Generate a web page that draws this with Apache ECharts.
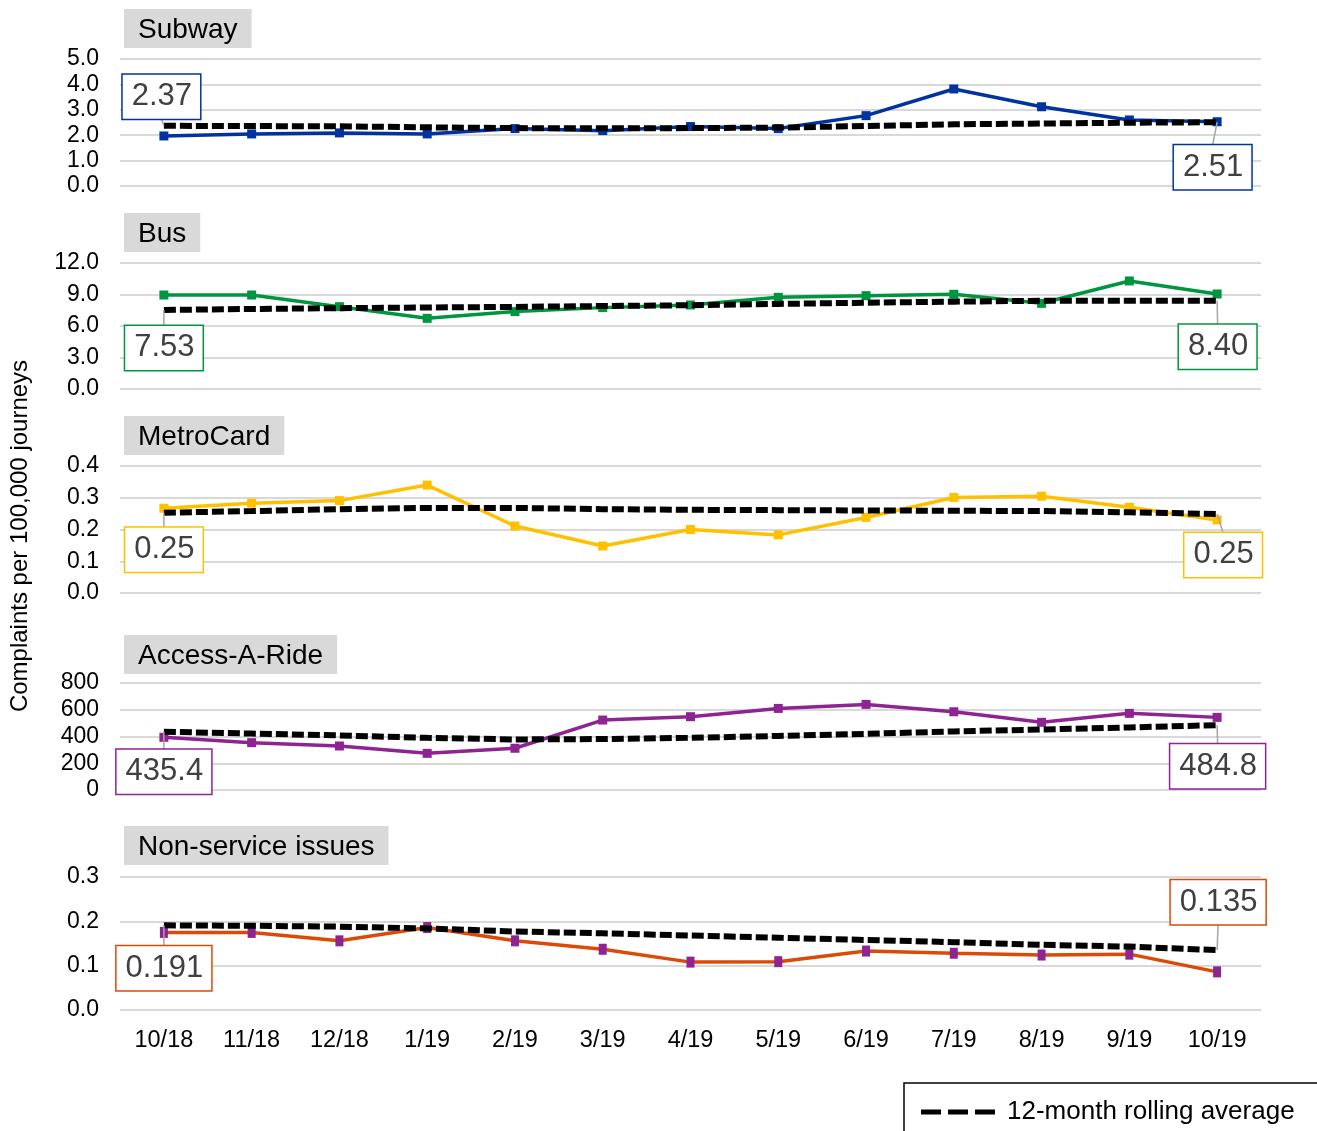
<!DOCTYPE html>
<html>
<head>
<meta charset="utf-8">
<script src="https://cdn.jsdelivr.net/npm/echarts@6/dist/echarts.min.js"></script>
<style>
  html, body { margin: 0; padding: 0; background: #fff; }
  #main { width: 1317px; height: 1131px; }
</style>
</head>
<body>
<div id="main"></div>
<script>
// months on the x axis
var months = ['10/18', '11/18', '12/18', '1/19', '2/19', '3/19', '4/19', '5/19', '6/19', '7/19', '8/19', '9/19', '10/19'];

// monthly values per panel
var subway = [1.97, 2.05, 2.09, 2.05, 2.26, 2.18, 2.34, 2.26, 2.77, 3.82, 3.12, 2.60, 2.53];
var bus = [8.95, 8.95, 7.84, 6.73, 7.37, 7.75, 8.00, 8.73, 8.89, 9.02, 8.16, 10.29, 9.05];
var metroCard = [0.267, 0.283, 0.291, 0.340, 0.211, 0.148, 0.200, 0.183, 0.238, 0.301, 0.305, 0.270, 0.230];
var accessARide = [394, 354, 329, 274, 312, 523, 548, 610, 640, 585, 506, 573, 543];
var nonService = [0.175, 0.175, 0.156, 0.186, 0.156, 0.137, 0.108, 0.109, 0.133, 0.128, 0.124, 0.126, 0.086];

// 12-month rolling averages
var subwayAvg = [2.37, 2.36, 2.35, 2.31, 2.28, 2.27, 2.28, 2.30, 2.36, 2.43, 2.46, 2.49, 2.51];
var busAvg = [7.53, 7.62, 7.70, 7.76, 7.82, 7.90, 7.98, 8.10, 8.22, 8.32, 8.40, 8.40, 8.40];
var metroCardAvg = [0.253, 0.258, 0.264, 0.268, 0.268, 0.264, 0.262, 0.261, 0.260, 0.259, 0.258, 0.254, 0.249];
var accessARideAvg = [435.4, 422, 408, 390, 378, 381, 390, 404, 420, 438, 452, 468, 484.8];
var nonServiceAvg = [0.191, 0.190, 0.188, 0.184, 0.177, 0.173, 0.168, 0.163, 0.158, 0.153, 0.147, 0.143, 0.135];

// y axis scales
var yMax = [5, 12, 0.4, 800, 0.3];
var yStep = [1, 3, 0.1, 200, 0.1];

var panelNames = ['Subway', 'Bus', 'MetroCard', 'Access-A-Ride', 'Non-service issues'];
var avgName = '12-month rolling average';

var panels = [
  {values: subway, avg: subwayAvg, line: '#0033a0', mark: '#0033a0', digits: 2, tickDigits: 1},
  {values: bus, avg: busAvg, line: '#00963f', mark: '#00963f', digits: 2, tickDigits: 1},
  {values: metroCard, avg: metroCardAvg, line: '#ffc000', mark: '#ffc000', digits: 2, tickDigits: 1},
  {values: accessARide, avg: accessARideAvg, line: '#8e2392', mark: '#8e2392', digits: 1, tickDigits: 0},
  {values: nonService, avg: nonServiceAvg, line: '#dc4a08', mark: '#8e2392', digits: 3, tickDigits: 1}
];

// layout of each panel
var gridTop = [59, 263, 466, 683, 877];
var gridHeight = [127, 126, 127, 107, 133];
var titleTop = [9, 213, 416, 635, 826];
// where the first / last value boxes sit relative to their point
var boxOffset = [
  [[-2.5, -29], [-4.5, 45]],
  [[0, 38], [0.5, 46]],
  [[0, 37], [6, 41]],
  [[0, 40], [0.5, 41]],
  [[0, 43], [1, -48]]
];

var font = '"Liberation Sans", Arial';
var chart = echarts.init(document.getElementById('main'));

var grids = [], xAxes = [], yAxes = [], series = [], titles = [];
for (var i = 0; i < panels.length; i++) {
  var p = panels[i];
  var last = i == panels.length - 1;
  grids.push({left: 120, right: 56, top: gridTop[i], height: gridHeight[i]});
  xAxes.push({
    type: 'category',
    gridIndex: i,
    data: months,
    boundaryGap: true,
    axisLine: {show: false},
    axisTick: {show: false},
    axisLabel: {show: last, color: '#000', fontSize: 23.5, margin: 19, fontFamily: font}
  });
  (function (d) {
    yAxes.push({
      type: 'value',
      gridIndex: i,
      min: 0,
      max: yMax[i],
      interval: yStep[i],
      axisLine: {show: false},
      axisTick: {show: false},
      splitLine: {lineStyle: {color: '#d9d9d9', width: 2}},
      axisLabel: {
        color: '#000', fontSize: 23, margin: 21, fontFamily: font,
        formatter: function (v) { return v.toFixed(d); }
      }
    });
  })(p.tickDigits);
  series.push({
    name: panelNames[i],
    type: 'line',
    xAxisIndex: i,
    yAxisIndex: i,
    data: p.values,
    symbol: 'rect',
    symbolSize: i == 4 ? [8, 11] : 9,
    lineStyle: {color: p.line, width: 3.5},
    itemStyle: {color: p.mark},
    z: 2
  });
  series.push({
    name: avgName,
    type: 'line',
    xAxisIndex: i,
    yAxisIndex: i,
    data: p.avg,
    symbol: 'none',
    lineStyle: {color: '#000', width: 6, type: [12, 4]},
    itemStyle: {color: '#000'},
    z: 3
  });
  titles.push({
    text: panelNames[i],
    left: 124,
    top: titleTop[i],
    backgroundColor: '#d9d9d9',
    padding: [6, 14, 3, 14],
    textStyle: {fontSize: 28, fontWeight: 'normal', color: '#000', lineHeight: 30, fontFamily: font}
  });
}

chart.setOption({
  animation: false,
  title: titles,
  grid: grids,
  xAxis: xAxes,
  yAxis: yAxes,
  series: series,
  legend: {
    data: [{name: avgName, icon: 'path://M0,0h20v5h-20z M27,0h20v5h-20z M54,0h20v5h-20z'}],
    left: 904,
    top: 1083,
    borderColor: '#000',
    borderWidth: 1.5,
    padding: [16, 60, 36, 17],
    itemWidth: 74,
    itemHeight: 5,
    itemStyle: {color: '#000'},
    textStyle: {fontSize: 26, color: '#000', padding: [0, 0, 0, 7], fontFamily: font}
  }
});

// value boxes for the first and last rolling average, with leader lines
var graphics = [{
  type: 'text',
  x: 20,
  y: 536,
  rotation: Math.PI / 2,
  style: {text: 'Complaints per 100,000 journeys', fill: '#000', font: '24px "Liberation Sans", Arial', align: 'center', verticalAlign: 'middle'}
}];
for (var i = 0; i < panels.length; i++) {
  var p = panels[i];
  var ends = [0, p.avg.length - 1];
  for (var k = 0; k < 2; k++) {
    var idx = ends[k];
    var pt = chart.convertToPixel({gridIndex: i}, [idx, p.avg[idx]]);
    var off = boxOffset[i][k];
    var label = p.avg[idx].toFixed(p.digits);
    var cx = pt[0] + off[0], cy = pt[1] + off[1];
    var edge = off[1] > 0 ? cy - 22 : cy + 22;
    if (Math.abs(edge - pt[1]) > 3) {
      graphics.push({
        type: 'line',
        shape: {x1: pt[0], y1: pt[1], x2: cx, y2: edge},
        style: {stroke: '#a6a6a6', lineWidth: 1.5},
        z: 10
      });
    }
    graphics.push({
      type: 'text',
      x: cx,
      y: cy,
      z: 11,
      style: {
        text: label,
        font: '31px "Liberation Sans", Arial',
        fill: '#404040',
        align: 'center',
        verticalAlign: 'middle',
        backgroundColor: '#fff',
        borderColor: p.line,
        borderWidth: 1.5,
        padding: [5, 8, 5, 9],
        lineHeight: 34
      }
    });
  }
}
chart.setOption({graphic: graphics});
</script>
</body>
</html>
